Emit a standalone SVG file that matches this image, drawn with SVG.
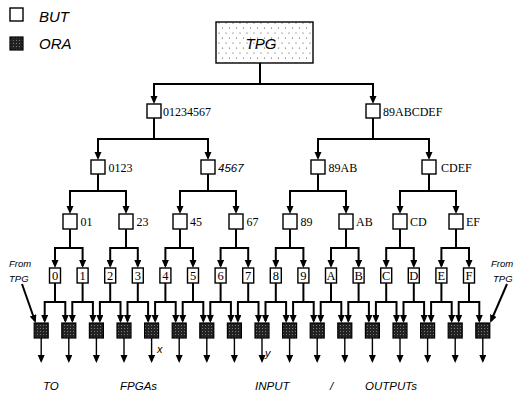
<svg xmlns="http://www.w3.org/2000/svg" width="514" height="401" viewBox="0 0 514 401">
<defs>
<style>
.box{fill:#fff;stroke:#000;stroke-width:1.4}
.ora{fill:url(#oraFill);stroke:#000;stroke-width:1.2}
.tpg{fill:url(#dots);stroke:#000;stroke-width:1.4}
.ln{fill:none;stroke:#000;stroke-width:2}
.fk{fill:none;stroke:#000;stroke-width:2;marker-start:url(#ah);marker-end:url(#ah)}
.ar{fill:none;stroke:#000;stroke-width:1.4;marker-end:url(#ah)}
.ser{font-family:"Liberation Serif","Times New Roman",serif;font-size:12px;fill:#000}
.leaf{font-family:"Liberation Serif","Times New Roman",serif;font-size:12.5px;fill:#000;text-anchor:middle}
.it{font-family:"Liberation Sans",Arial,sans-serif;font-style:italic;fill:#000}
</style>
<pattern id="dots" width="7" height="10" patternUnits="userSpaceOnUse">
<rect width="7" height="10" fill="#fff"/>
<circle cx="2" cy="3" r="0.6" fill="#444"/>
<circle cx="5.5" cy="8" r="0.6" fill="#444"/>
</pattern>
<pattern id="oraFill" width="3" height="3" patternUnits="userSpaceOnUse">
<rect width="3" height="3" fill="#222"/>
<rect x="1" y="1" width="1" height="1" fill="#777"/>
</pattern>
<marker id="ah" markerUnits="userSpaceOnUse" markerWidth="9" markerHeight="8" refX="6" refY="3.5" orient="auto-start-reverse">
<path d="M0,0 L8,3.5 L0,7 z" fill="#000"/>
</marker>
</defs>
<rect width="514" height="401" fill="#fff"/>

<g id="legend">
<rect class="box" x="10" y="8" width="13" height="13"/>
<text class="it" x="39" y="22" font-size="15">BUT</text>
<rect class="ora" x="10" y="37" width="13" height="13"/>
<text class="it" x="39" y="49" font-size="15">ORA</text>
</g>

<g id="connectors">
<path class="ln" d="M260,63 V84"/>
<path class="fk" d="M154,102 V84 H373 V102"/>
<path class="ln" d="M154,118 V139"/>
<path class="fk" d="M98,158 V139 H208 V158"/>
<path class="ln" d="M373,118 V139"/>
<path class="fk" d="M318,158 V139 H429 V158"/>
<path class="ln" d="M98,174 V191"/>
<path class="fk" d="M70,212 V191 H126 V212"/>
<path class="ln" d="M208,174 V191"/>
<path class="fk" d="M180,212 V191 H236 V212"/>
<path class="ln" d="M318,174 V191"/>
<path class="fk" d="M290,212 V191 H346 V212"/>
<path class="ln" d="M429,174 V191"/>
<path class="fk" d="M400,212 V191 H456 V212"/>
<path class="ln" d="M70,229 V248"/>
<path class="fk" d="M55,266 V248 H82.6 V266"/>
<path class="ln" d="M126,229 V248"/>
<path class="fk" d="M110.2,266 V248 H137.8 V266"/>
<path class="ln" d="M180,229 V248"/>
<path class="fk" d="M165.4,266 V248 H193 V266"/>
<path class="ln" d="M236,229 V248"/>
<path class="fk" d="M220.6,266 V248 H248.2 V266"/>
<path class="ln" d="M290,229 V248"/>
<path class="fk" d="M275.8,266 V248 H303.4 V266"/>
<path class="ln" d="M346,229 V248"/>
<path class="fk" d="M331,266 V248 H358.6 V266"/>
<path class="ln" d="M400,229 V248"/>
<path class="fk" d="M386.2,266 V248 H413.8 V266"/>
<path class="ln" d="M456,229 V248"/>
<path class="fk" d="M441.4,266 V248 H469 V266"/>
<path class="ln" d="M55,283 V302"/><path class="fk" d="M44.7,321 V302 H65.3 V321"/>
<path class="ln" d="M82.6,283 V302"/><path class="fk" d="M72.3,321 V302 H92.9 V321"/>
<path class="ln" d="M110.2,283 V302"/><path class="fk" d="M99.9,321 V302 H120.5 V321"/>
<path class="ln" d="M137.8,283 V302"/><path class="fk" d="M127.5,321 V302 H148.1 V321"/>
<path class="ln" d="M165.4,283 V302"/><path class="fk" d="M155.1,321 V302 H175.7 V321"/>
<path class="ln" d="M193,283 V302"/><path class="fk" d="M182.7,321 V302 H203.3 V321"/>
<path class="ln" d="M220.6,283 V302"/><path class="fk" d="M210.3,321 V302 H230.9 V321"/>
<path class="ln" d="M248.2,283 V302"/><path class="fk" d="M237.9,321 V302 H258.5 V321"/>
<path class="ln" d="M275.8,283 V302"/><path class="fk" d="M265.5,321 V302 H286.1 V321"/>
<path class="ln" d="M303.4,283 V302"/><path class="fk" d="M293.1,321 V302 H313.7 V321"/>
<path class="ln" d="M331,283 V302"/><path class="fk" d="M320.7,321 V302 H341.3 V321"/>
<path class="ln" d="M358.6,283 V302"/><path class="fk" d="M348.3,321 V302 H368.9 V321"/>
<path class="ln" d="M386.2,283 V302"/><path class="fk" d="M375.9,321 V302 H396.5 V321"/>
<path class="ln" d="M413.8,283 V302"/><path class="fk" d="M403.5,321 V302 H424.1 V321"/>
<path class="ln" d="M441.4,283 V302"/><path class="fk" d="M431.1,321 V302 H451.7 V321"/>
<path class="ln" d="M469,283 V302"/><path class="fk" d="M458.7,321 V302 H479.3 V321"/>
<path class="ar" d="M41.2,338 V361"/>
<path class="ar" d="M68.8,338 V361"/>
<path class="ar" d="M96.4,338 V361"/>
<path class="ar" d="M124,338 V361"/>
<path class="ar" d="M151.6,338 V361"/>
<path class="ar" d="M179.2,338 V361"/>
<path class="ar" d="M206.8,338 V361"/>
<path class="ar" d="M234.4,338 V361"/>
<path class="ar" d="M262,338 V361"/>
<path class="ar" d="M289.6,338 V361"/>
<path class="ar" d="M317.2,338 V361"/>
<path class="ar" d="M344.8,338 V361"/>
<path class="ar" d="M372.4,338 V361"/>
<path class="ar" d="M400,338 V361"/>
<path class="ar" d="M427.6,338 V361"/>
<path class="ar" d="M455.2,338 V361"/>
<path class="ar" d="M482.8,338 V361"/>
<path class="ln" style="marker-end:url(#ah)" d="M22,284 L35,321"/>
<path class="ln" style="marker-end:url(#ah)" d="M507,284 L491,321"/>
</g>

<g id="TPG">
<rect class="tpg" x="216" y="22" width="97" height="41"/>
<text class="it" x="261" y="48.5" font-size="15" text-anchor="middle">TPG</text>
</g>

<g id="n01234567"><rect class="box" x="147" y="104" width="14" height="14"/><text class="ser" x="163" y="115.5">01234567</text></g>
<g id="n89ABCDEF"><rect class="box" x="366" y="104" width="14" height="14"/><text class="ser" x="383" y="115.5">89ABCDEF</text></g>

<g id="n0123"><rect class="box" x="91" y="160" width="14" height="14"/><text class="ser" x="108.5" y="171.5">0123</text></g>
<g id="n4567"><rect class="box" x="201" y="160" width="14" height="14"/><text class="it" x="218" y="171.5" font-size="11.5">4567</text></g>
<g id="n89AB"><rect class="box" x="311" y="160" width="14" height="14"/><text class="ser" x="328.5" y="171.5">89AB</text></g>
<g id="nCDEF"><rect class="box" x="422" y="160" width="14" height="14"/><text class="ser" x="441" y="171.5">CDEF</text></g>

<g id="n01"><rect class="box" x="63" y="214" width="14" height="15"/><text class="ser" x="80.5" y="226">01</text></g>
<g id="n23"><rect class="box" x="119" y="214" width="14" height="15"/><text class="ser" x="136.5" y="226">23</text></g>
<g id="n45"><rect class="box" x="173" y="214" width="14" height="15"/><text class="ser" x="190" y="226">45</text></g>
<g id="n67"><rect class="box" x="229" y="214" width="14" height="15"/><text class="ser" x="246.5" y="226">67</text></g>
<g id="n89"><rect class="box" x="283" y="214" width="14" height="15"/><text class="ser" x="300.5" y="226">89</text></g>
<g id="nAB"><rect class="box" x="339" y="214" width="14" height="15"/><text class="ser" x="356" y="226">AB</text></g>
<g id="nCD"><rect class="box" x="393" y="214" width="14" height="15"/><text class="ser" x="410" y="226">CD</text></g>
<g id="nEF"><rect class="box" x="449" y="214" width="14" height="15"/><text class="ser" x="466" y="226">EF</text></g>

<g id="leaf0"><rect class="box" x="49.5" y="268" width="11" height="15"/><text class="leaf" x="55" y="280">0</text></g>
<g id="leaf1"><rect class="box" x="77.1" y="268" width="11" height="15"/><text class="leaf" x="82.6" y="280">1</text></g>
<g id="leaf2"><rect class="box" x="104.7" y="268" width="11" height="15"/><text class="leaf" x="110.2" y="280">2</text></g>
<g id="leaf3"><rect class="box" x="132.3" y="268" width="11" height="15"/><text class="leaf" x="137.8" y="280">3</text></g>
<g id="leaf4"><rect class="box" x="159.9" y="268" width="11" height="15"/><text class="leaf" x="165.4" y="280">4</text></g>
<g id="leaf5"><rect class="box" x="187.5" y="268" width="11" height="15"/><text class="leaf" x="193" y="280">5</text></g>
<g id="leaf6"><rect class="box" x="215.1" y="268" width="11" height="15"/><text class="leaf" x="220.6" y="280">6</text></g>
<g id="leaf7"><rect class="box" x="242.7" y="268" width="11" height="15"/><text class="leaf" x="248.2" y="280">7</text></g>
<g id="leaf8"><rect class="box" x="270.3" y="268" width="11" height="15"/><text class="leaf" x="275.8" y="280">8</text></g>
<g id="leaf9"><rect class="box" x="297.9" y="268" width="11" height="15"/><text class="leaf" x="303.4" y="280">9</text></g>
<g id="leafA"><rect class="box" x="325.5" y="268" width="11" height="15"/><text class="leaf" x="331" y="280">A</text></g>
<g id="leafB"><rect class="box" x="353.1" y="268" width="11" height="15"/><text class="leaf" x="358.6" y="280">B</text></g>
<g id="leafC"><rect class="box" x="380.7" y="268" width="11" height="15"/><text class="leaf" x="386.2" y="280">C</text></g>
<g id="leafD"><rect class="box" x="408.3" y="268" width="11" height="15"/><text class="leaf" x="413.8" y="280">D</text></g>
<g id="leafE"><rect class="box" x="435.9" y="268" width="11" height="15"/><text class="leaf" x="441.4" y="280">E</text></g>
<g id="leafF"><rect class="box" x="463.5" y="268" width="11" height="15"/><text class="leaf" x="469" y="280">F</text></g>

<g id="ora1"><rect class="ora" x="34.2" y="323" width="14" height="15"/></g>
<g id="ora2"><rect class="ora" x="61.8" y="323" width="14" height="15"/></g>
<g id="ora3"><rect class="ora" x="89.4" y="323" width="14" height="15"/></g>
<g id="ora4"><rect class="ora" x="117" y="323" width="14" height="15"/></g>
<g id="ora5"><rect class="ora" x="144.6" y="323" width="14" height="15"/></g>
<g id="ora6"><rect class="ora" x="172.2" y="323" width="14" height="15"/></g>
<g id="ora7"><rect class="ora" x="199.8" y="323" width="14" height="15"/></g>
<g id="ora8"><rect class="ora" x="227.4" y="323" width="14" height="15"/></g>
<g id="ora9"><rect class="ora" x="255" y="323" width="14" height="15"/></g>
<g id="ora10"><rect class="ora" x="282.6" y="323" width="14" height="15"/></g>
<g id="ora11"><rect class="ora" x="310.2" y="323" width="14" height="15"/></g>
<g id="ora12"><rect class="ora" x="337.8" y="323" width="14" height="15"/></g>
<g id="ora13"><rect class="ora" x="365.4" y="323" width="14" height="15"/></g>
<g id="ora14"><rect class="ora" x="393" y="323" width="14" height="15"/></g>
<g id="ora15"><rect class="ora" x="420.6" y="323" width="14" height="15"/></g>
<g id="ora16"><rect class="ora" x="448.2" y="323" width="14" height="15"/></g>
<g id="ora17"><rect class="ora" x="475.8" y="323" width="14" height="15"/></g>

<g id="labels">
<text class="it" x="9" y="267" font-size="9.5">From</text>
<text class="it" x="9" y="282" font-size="9.5">TPG</text>
<text class="it" x="491" y="267" font-size="9.5">From</text>
<text class="it" x="493" y="282" font-size="9.5">TPG</text>
<text class="it" x="157" y="353" font-size="11">x</text>
<text class="it" x="265" y="357" font-size="11">y</text>
<text class="it" x="43" y="390" font-size="11.5">TO</text>
<text class="it" x="120" y="390" font-size="11.5">FPGAs</text>
<text class="it" x="255" y="390" font-size="11.5">INPUT</text>
<text class="it" x="330" y="390" font-size="11.5">/</text>
<text class="it" x="365" y="390" font-size="11.5">OUTPUTs</text>
</g>
</svg>
